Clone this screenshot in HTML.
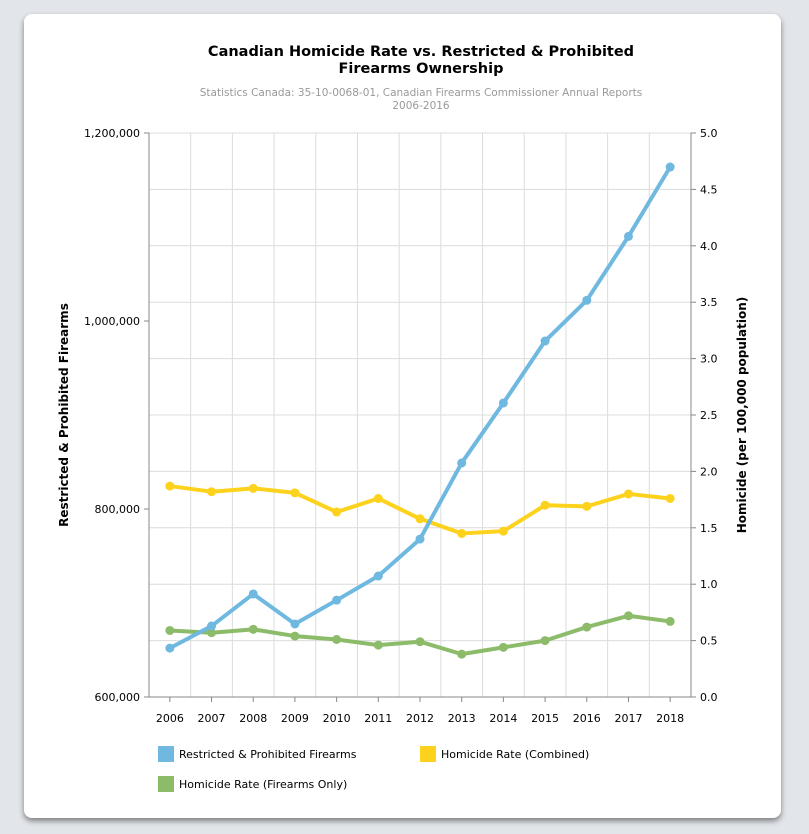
<!DOCTYPE html>
<html><head><meta charset="utf-8">
<style>
html,body{margin:0;padding:0;}
body{width:809px;height:834px;background:#e2e5e9;position:relative;overflow:hidden;font-family:"DejaVu Sans","Liberation Sans",sans-serif;}
#card{position:absolute;left:24px;top:14px;width:757px;height:804px;background:#fff;border-radius:8px;box-shadow:0 3px 6px rgba(0,0,0,0.45);}
svg{position:absolute;left:0;top:0;}
</style></head>
<body>
<div id="card"></div>
<svg id="chart" width="809" height="834" font-family="'DejaVu Sans','Liberation Sans',sans-serif">
<text x="421" y="56" text-anchor="middle" font-size="14.5" font-weight="bold" fill="#000">Canadian Homicide Rate vs. Restricted &amp; Prohibited</text>
<text x="421" y="73" text-anchor="middle" font-size="14.5" font-weight="bold" fill="#000">Firearms Ownership</text>
<text x="421" y="96" text-anchor="middle" font-size="10.5" fill="#999">Statistics Canada: 35-10-0068-01, Canadian Firearms Commissioner Annual Reports</text>
<text x="421" y="109" text-anchor="middle" font-size="10.5" fill="#999">2006-2016</text>
<g id="grid"></g>
<g id="axes"></g>
<g id="series"></g>
<g id="legend"></g>
</svg>
<script>
const categories=["2006","2007","2008","2009","2010","2011","2012","2013","2014","2015","2016","2017","2018"];
const firearms=[652000,675500,709600,677700,703000,728700,768000,849000,912800,978700,1022000,1090000,1163800];
const homicideCombined=[1.87,1.82,1.85,1.81,1.64,1.76,1.58,1.45,1.47,1.70,1.69,1.80,1.76];
const homicideFirearms=[0.59,0.57,0.60,0.54,0.51,0.46,0.49,0.38,0.44,0.50,0.62,0.72,0.67];
const leftTicks=[600000,800000,1000000,1200000];
const leftTickLabels=["600,000","800,000","1,000,000","1,200,000"];
const rightTicks=[0,0.5,1,1.5,2,2.5,3,3.5,4,4.5,5];

const NS="http://www.w3.org/2000/svg";
const L=149,R=691,T=133,B=697;
const band=(R-L)/categories.length;
const xPos=i=>L+band*(i+0.5);
const yLeft=v=>B-(v-600000)/600000*(B-T);
const yRight=v=>B-v/5*(B-T);
function mk(tag,attrs,parent){const e=document.createElementNS(NS,tag);for(const k in attrs)e.setAttribute(k,attrs[k]);parent.appendChild(e);return e;}
const grid=document.getElementById('grid'),axes=document.getElementById('axes'),series=document.getElementById('series'),legend=document.getElementById('legend');

for(let i=0;i<=categories.length;i++){
  const x=L+band*i;
  const g=mk('line',{x1:x,x2:x,y1:T,y2:B,stroke:'#dcdcdc','stroke-width':1},grid);
  
  
}
rightTicks.forEach((v,i)=>{
  const y=yRight(v);
  const g=mk('line',{x1:L,x2:R,y1:y,y2:y,stroke:'#dcdcdc','stroke-width':1},grid);
  
  
  const tk=mk('line',{x1:R,x2:R+5,y1:y,y2:y,stroke:'#888'},axes);
  
  
  const t=mk('text',{x:R+9,y:y+4,'font-size':11,fill:'#000'},axes);
  t.textContent=v.toFixed(1);
  
  
});
leftTicks.forEach((v,i)=>{
  const y=yLeft(v);
  const tk=mk('line',{x1:L-5,x2:L,y1:y,y2:y,stroke:'#888'},axes);
  
  
  const t=mk('text',{x:L-9,y:y+4,'font-size':11,fill:'#000','text-anchor':'end'},axes);
  t.textContent=leftTickLabels[i];
  
  
});
const la=mk('line',{x1:L,x2:L,y1:T,y2:B,stroke:'#888'},axes);


const ra=mk('line',{x1:R,x2:R,y1:T,y2:B,stroke:'#888'},axes);


const ba=mk('line',{x1:L,x2:R,y1:B,y2:B,stroke:'#888'},axes);


categories.forEach((c,i)=>{
  const x=xPos(i);
  const tk=mk('line',{x1:x,x2:x,y1:B,y2:B+5,stroke:'#888'},axes);
  
  
  const t=mk('text',{x:x,y:B+25,'font-size':11,fill:'#000','text-anchor':'middle'},axes);
  t.textContent=c;
  
  
});
const ylt=mk('text',{x:0,y:0,'font-size':12,'font-weight':'bold',fill:'#000','text-anchor':'middle',transform:'translate(68,415) rotate(-90)'},axes);
ylt.textContent='Restricted & Prohibited Firearms';


const yrt=mk('text',{x:0,y:0,'font-size':12,'font-weight':'bold',fill:'#000','text-anchor':'middle',transform:'translate(746,415) rotate(-90)'},axes);
yrt.textContent='Homicide (per 100,000 population)';



function drawSeries(vals,yf,color,name){
  const pts=vals.map((v,i)=>xPos(i)+','+yf(v)).join(' ');
  const pl=mk('polyline',{points:pts,fill:'none',stroke:color,'stroke-width':4,'stroke-linejoin':'round'},series);
  
  
  vals.forEach((v,i)=>{
    const c=mk('circle',{cx:xPos(i),cy:yf(v),r:4.5,fill:color},series);
    
    
  });
}
drawSeries(homicideFirearms,yRight,'#8cbb6a','homicide-firearms');
drawSeries(homicideCombined,yRight,'#fcd21c','homicide-combined');
drawSeries(firearms,yLeft,'#6fb8e0','restricted-firearms');

const leg=[["Restricted & Prohibited Firearms",'#6fb8e0',158,746],["Homicide Rate (Combined)",'#fcd21c',420,746],["Homicide Rate (Firearms Only)",'#8cbb6a',158,776]];
leg.forEach(l=>{
  const g=mk('g',{},legend);
  
  
  mk('rect',{x:l[2],y:l[3],width:16,height:16,fill:l[1]},g);
  const t=mk('text',{x:l[2]+21,y:l[3]+12,'font-size':11,fill:'#000'},g);
  t.textContent=l[0];
});
</script>
</body></html>
